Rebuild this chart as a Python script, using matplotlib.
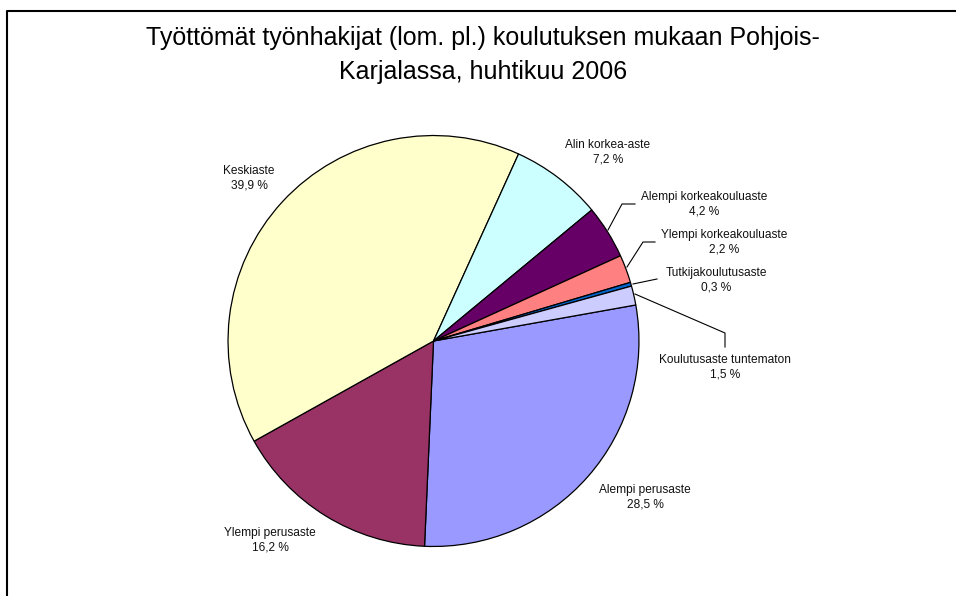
import matplotlib
matplotlib.use("Agg")
import matplotlib.pyplot as plt
from matplotlib.lines import Line2D

plt.rcParams['font.family'] = ['Liberation Sans', 'DejaVu Sans']

categories = ["Alempi perusaste", "Ylempi perusaste", "Keskiaste", "Alin korkea-aste",
              "Alempi korkeakouluaste", "Ylempi korkeakouluaste", "Tutkijakoulutusaste",
              "Koulutusaste tuntematon"]
values = [28.5, 16.2, 39.9, 7.2, 4.2, 2.2, 0.3, 1.5]
colors = ["#9999FF", "#993366", "#FFFFCC", "#CCFFFF", "#660066", "#FF8080", "#0066CC", "#CCCCFF"]
title = "Työttömät työnhakijat (lom. pl.) koulutuksen mukaan Pohjois-\nKarjalassa, huhtikuu 2006"

W, H = 956, 596
fig = plt.figure(figsize=(W / 100, H / 100), dpi=100)

def fx(x):
    return x / W

def fy(y):
    return 1 - y / H

# pie axes (pixel layout)
cx, cy, r = 433.5, 341.0, 206.5
ax = fig.add_axes([fx(cx - r), fy(cy + r), 2 * r / W, 2 * r / H])
ax.pie(values, colors=colors, startangle=10.1, counterclock=False, radius=1.0,
       wedgeprops=dict(edgecolor="black", linewidth=0.9))
ax.set_xlim(-1.005, 1.005)
ax.set_ylim(-1.005, 1.005)
ax.axis("off")

# labels: (center x, center y) of two-line label in pixels
label_pos = [(645, 497), (270, 540), (249, 178), (608, 152),
             (704, 204), (724, 242), (716, 280), (725, 367)]
for name, v, (x, y) in zip(categories, values, label_pos):
    txt = f"{name}\n{v:.1f} %".replace(".", ",")
    fig.text(fx(x), fy(y), txt, ha="center", va="center", fontsize=8.6,
             color="#111111", linespacing=1.3)

# leader lines (pixels)
leaders = [
    [(608, 230), (622, 204), (635, 204)],
    [(627, 267), (643, 242), (655, 242)],
    [(633, 284), (657, 279)],
    [(635, 294), (725, 333), (725, 347)],
]
for pts in leaders:
    xs = [fx(p[0]) for p in pts]
    ys = [fy(p[1]) for p in pts]
    fig.add_artist(Line2D(xs, ys, color="black", linewidth=0.8))

fig.text(fx(483), fy(55), title, ha="center", va="center", fontsize=18,
         color="black", linespacing=1.5)

# chart frame
fig.add_artist(Line2D([fx(6.5), fx(6.5), fx(960)], [fy(600), fy(11), fy(11)],
                      color="black", linewidth=1.5))

fig.savefig("out.png", dpi=100)
